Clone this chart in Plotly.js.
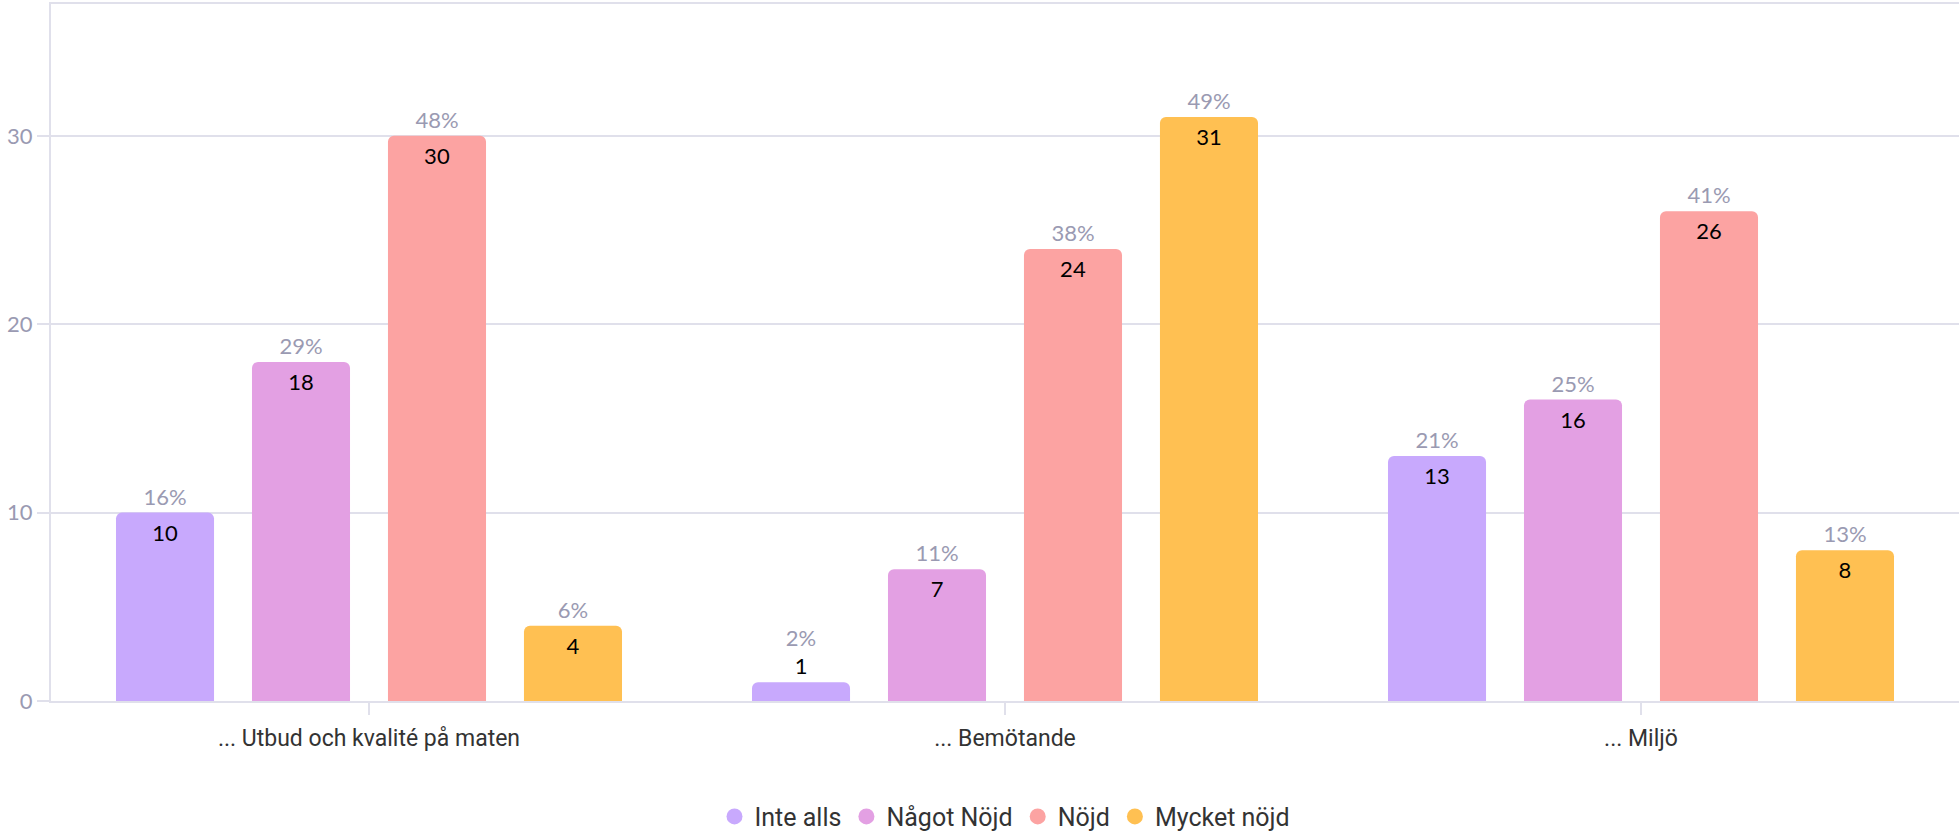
<!DOCTYPE html>
<html>
<head>
<meta charset="utf-8">
<script src="https://cdn.plot.ly/plotly-3.0.1.min.js"></script>
<style>html,body{margin:0;padding:0;background:#fff;}#chart{width:1960px;height:834px;}</style>
</head>
<body>
<div id="chart"></div>
<script>
const categories = ['... Utbud och kvalité på maten', '... Bemötande', '... Miljö'];
const seriesNames = ['Inte alls', 'Något Nöjd', 'Nöjd', 'Mycket nöjd'];
const inteAlls = [10, 1, 13];
const nagotNojd = [18, 7, 16];
const nojd = [30, 24, 26];
const mycketNojd = [4, 31, 8];
const inteAllsPct = [16, 2, 21];
const nagotNojdPct = [29, 11, 25];
const nojdPct = [48, 38, 41];
const mycketNojdPct = [6, 49, 13];
const colors = ['#C8A9FD', '#E3A0E3', '#FCA3A2', '#FFC052'];
const yTicks = [0, 10, 20, 30];

const values = [inteAlls, nagotNojd, nojd, mycketNojd];
const pcts = [inteAllsPct, nagotNojdPct, nojdPct, mycketNojdPct];
const MIN_INSIDE = 2;
const numFont = 'Lato, Roboto, sans-serif';
const pctColor = '#9A9AB2';

const traces = [];
values.forEach((vals, s) => {
  const grp = 'g' + s;
  traces.push({
    type: 'bar', x: categories, y: vals, name: seriesNames[s],
    offsetgroup: grp, legendgroup: grp, showlegend: false,
    marker: {color: colors[s], line: {width: 0}},
    text: vals.map(v => v >= MIN_INSIDE ? String(v) : ''),
    textposition: 'inside', insidetextanchor: 'end', constraintext: 'none',
    textfont: {family: numFont, size: 22, color: '#000'},
    cliponaxis: false, hoverinfo: 'x+y+name'
  });
  traces.push({
    type: 'bar', x: categories, y: vals, name: seriesNames[s],
    offsetgroup: grp, legendgroup: grp, showlegend: false,
    marker: {color: 'rgba(0,0,0,0)', line: {width: 0}},
    text: vals.map((v, i) => v >= MIN_INSIDE ? pcts[s][i] + '%' :
      pcts[s][i] + '%<br><span style="color:#000">' + v + '</span>'),
    textposition: 'outside', constraintext: 'none',
    textfont: {family: numFont, size: 22, color: pctColor},
    cliponaxis: false, hoverinfo: 'skip'
  });
});
seriesNames.forEach((n, s) => {
  traces.push({
    type: 'scatter', mode: 'markers', x: [null], y: [null], name: n,
    legendgroup: 'g' + s, showlegend: true,
    marker: {color: colors[s], size: 24, symbol: 'circle'}, hoverinfo: 'skip'
  });
});

const lineCol = '#E0E0EB';
const layout = {
  width: 1960, height: 834,
  margin: {l: 51, r: 1, t: 4, b: 133, autoexpand: false},
  paper_bgcolor: '#fff', plot_bgcolor: '#fff',
  font: {family: 'Roboto, sans-serif', size: 22, color: '#333'},
  barmode: 'group', bargap: 0.1447, bargroupgap: 0.279, barcornerradius: 6,
  xaxis: {
    type: 'category', showline: true, mirror: true, linecolor: lineCol, linewidth: 2,
    ticks: 'outside', ticklen: 12, tickwidth: 2, tickcolor: lineCol,
    ticklabelstandoff: 3,
    tickfont: {family: 'Roboto, sans-serif', size: 23, color: '#333'},
    showgrid: false, zeroline: false
  },
  yaxis: {
    range: [0, 37], tickvals: yTicks, ticktext: yTicks.map(String),
    showline: true, linecolor: lineCol, linewidth: 2,
    ticks: 'outside', ticklen: 12, tickwidth: 2, tickcolor: lineCol,
    showgrid: true, gridcolor: lineCol, gridwidth: 2, zeroline: false,
    tickfont: {family: numFont, size: 22, color: pctColor}
  },
  legend: {
    orientation: 'h', x: 0.5, xanchor: 'center', y: -0.166, yanchor: 'middle',
    font: {family: 'Roboto, sans-serif', size: 25, color: '#333'},
    itemclick: false, itemdoubleclick: false
  },
  showlegend: true
};
Plotly.newPlot('chart', traces, layout, {displayModeBar: false, staticPlot: true});
</script>
</body>
</html>
